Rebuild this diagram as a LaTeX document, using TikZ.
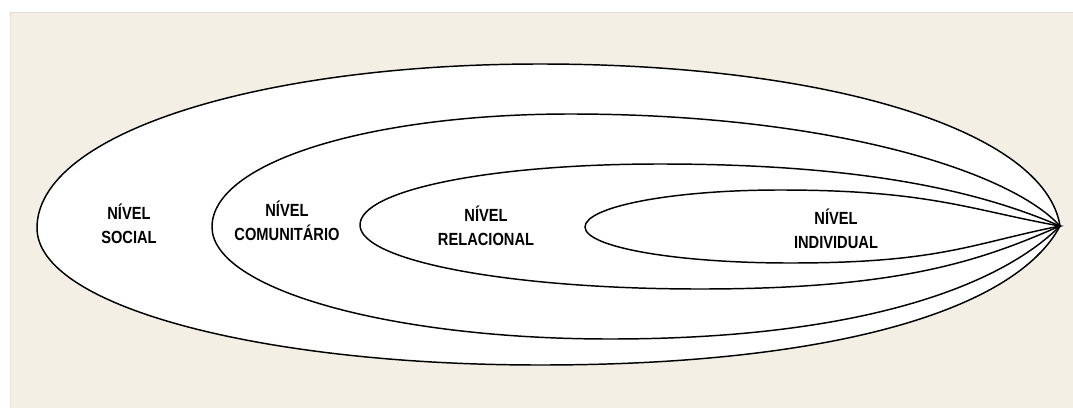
\documentclass[tikz,border=0pt]{standalone}
\usepackage{fontspec}
\setmainfont{Liberation Sans}
\usetikzlibrary{positioning}

\definecolor{paper}{RGB}{243,239,229}
\definecolor{paperedge}{RGB}{226,222,212}

% taller letters, as in the original
\newcommand{\lvltxt}[1]{\scalebox{1}[1.2]{#1}}

\tikzset{
  level/.style={black,line width=1.1pt,fill=white},
  levellabel/.style={align=center,inner sep=0pt,anchor=base,
    font=\bfseries\fontsize{11}{18}\selectfont}
}

\begin{document}
\begin{tikzpicture}[x=0.75pt,y=-0.75pt]
\useasboundingbox (0,0) rectangle (1073,407);
\fill[white] (0,0) rectangle (1073,407);
\fill[paper,draw=paperedge] (10.5,12.5) rectangle (1074,408);

\coordinate (tip) at (1060,226);

% social
\draw[level] (37,228) .. controls +(0,-95) and +(-280,0) .. (540,64)
  .. controls +(290,0) and +(-15,-95) .. (tip)
  .. controls +(-45,85) and +(290,0) .. (540,365)
  .. controls +(-280,0) and +(0,78) .. (37,228) -- cycle;
% comunitario
\draw[level] (212,227) .. controls +(0,-65) and +(-200,0) .. (570,114)
  .. controls +(260,0) and +(-50,-55) .. (tip)
  .. controls +(-60,60) and +(250,0) .. (610,339)
  .. controls +(-220,0) and +(0,62) .. (212,227) -- cycle;
% relacional
\draw[level] (360,225) .. controls +(0,-35) and +(-170,0) .. (660,164)
  .. controls +(220,0) and +(-70,-30) .. (tip)
  .. controls +(-80,35) and +(200,0) .. (700,289)
  .. controls +(-190,0) and +(0,36) .. (360,225) -- cycle;
% individual
\draw[level] (585,227) .. controls +(0,-20) and +(-110,0) .. (780,190)
  .. controls +(150,0) and +(-90,-16) .. (tip)
  .. controls +(-90,18) and +(150,0) .. (790,263)
  .. controls +(-115,0) and +(0,20) .. (585,227) -- cycle;

\node[levellabel] (social) at (129,243) {\lvltxt{NÍVEL}\\\lvltxt{SOCIAL}};
\node[levellabel] (comunitario) at (287,240) {\lvltxt{NÍVEL}\\\lvltxt{COMUNITÁRIO}};
\node[levellabel] (relacional) at (486,245) {\lvltxt{NÍVEL}\\\lvltxt{RELACIONAL}};
\node[levellabel] (individual) at (836,248) {\lvltxt{NÍVEL}\\\lvltxt{INDIVIDUAL}};
\end{tikzpicture}
\end{document}
